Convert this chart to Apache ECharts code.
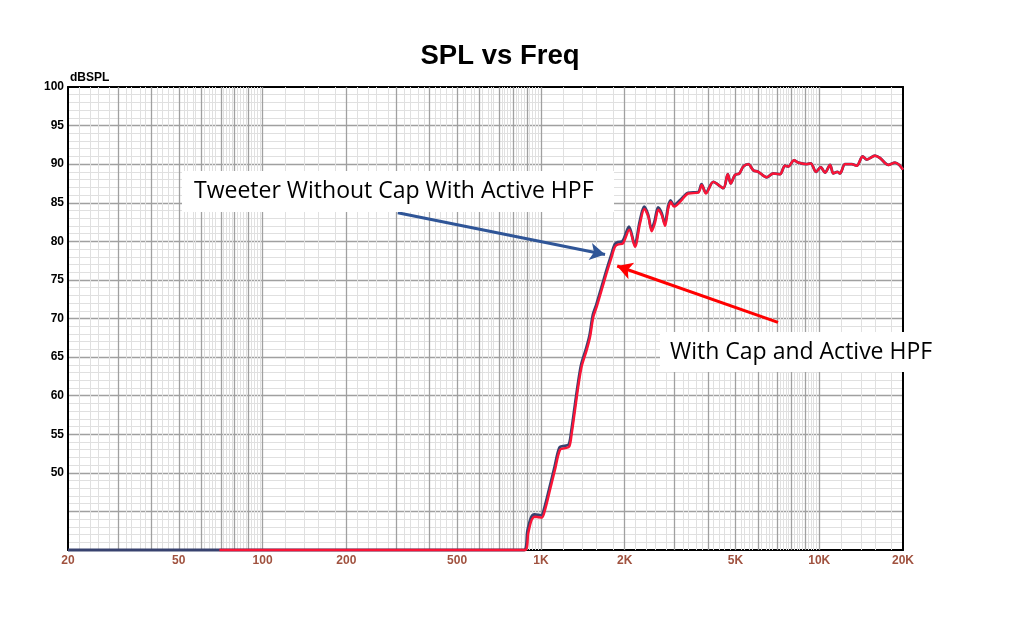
<!DOCTYPE html>
<html>
<head>
<meta charset="utf-8">
<script src="https://cdn.jsdelivr.net/npm/echarts@6/dist/echarts.min.js"></script>
<style>
html,body{margin:0;padding:0;background:#fff;}
#chart{width:1022px;height:621px;}
</style>
</head>
<body>
<div id="chart"></div>
<script>
// ---- data ----
const xTickLabels = [20, 50, 100, 200, 500, 1000, 2000, 5000, 10000, 20000];
const yTickLabels = [50, 55, 60, 65, 70, 75, 80, 85, 90, 95, 100];

const redFreq = [70, 877, 901, 927, 953, 1007, 1035, 1079, 1124, 1172, 1221, 1265, 1291, 1326, 1363, 1402, 1461, 1502, 1543, 1587, 1654, 1720, 1790, 1847, 1897, 1968, 2078, 2178, 2271, 2354, 2432, 2502, 2570, 2642, 2718, 2793, 2870, 2928, 3008, 3162, 3386, 3678, 3783, 3920, 4164, 4524, 4692, 4809, 4982, 5164, 5338, 5564, 5799, 6044, 6477, 6840, 7229, 7534, 7745, 8118, 8414, 9020, 9324, 9740, 10126, 10494, 10938, 11240, 11616, 11878, 12382, 13086, 13638, 14332, 14814, 15862, 16534, 17712, 18722, 19398, 20000];
const redSPL = [40, 40, 42.2, 43.9, 44.3, 44.2, 45.2, 47.8, 50.4, 53.0, 53.2, 53.4, 55.1, 58.1, 61.2, 63.8, 65.9, 67.6, 70.2, 71.5, 73.7, 75.8, 77.8, 79.3, 79.6, 79.7, 81.5, 79.3, 82.3, 84.2, 83.2, 81.3, 82.4, 84.1, 83.4, 82.0, 84.3, 85.1, 84.5, 85.1, 86.2, 86.3, 87.3, 86.2, 87.7, 86.9, 88.7, 87.5, 88.6, 88.8, 89.7, 90.0, 89.2, 89.0, 88.3, 88.8, 88.7, 89.8, 89.7, 90.5, 90.2, 90.0, 90.1, 89.0, 89.6, 88.9, 89.9, 88.8, 89.0, 88.8, 90.0, 90.0, 89.8, 91.0, 90.6, 91.1, 90.8, 89.9, 90.2, 89.9, 89.3];

const blueFreq = [20, 870, 895, 922, 948, 1002, 1030, 1074, 1119, 1167, 1216, 1260, 1286, 1321, 1358, 1397, 1456, 1497, 1538, 1582, 1649, 1715, 1785, 1842, 1892, 1963, 2073, 2173, 2266, 2349, 2427, 2497, 2565, 2637, 2713, 2788, 2865, 2923, 3003, 3157, 3381, 3673, 3778, 3915, 4164, 4524, 4692, 4809, 4982, 5164, 5338, 5564, 5799, 6044, 6477, 6840, 7229, 7534, 7745, 8118, 8414, 9020, 9324, 9740, 10126, 10494, 10938, 11240, 11616, 11878, 12382, 13086, 13638, 14332, 14814, 15862, 16534, 17712, 18722, 19398, 20000];
const blueSPL = [40, 40, 42.5, 44.2, 44.6, 44.5, 45.5, 48.1, 50.7, 53.3, 53.5, 53.7, 55.4, 58.4, 61.5, 64.1, 66.2, 67.9, 70.5, 71.8, 74.0, 76.1, 78.1, 79.6, 79.9, 80.0, 81.9, 79.6, 82.6, 84.5, 83.5, 81.6, 82.7, 84.4, 83.7, 82.3, 84.5, 85.3, 84.7, 85.3, 86.3, 86.4, 87.4, 86.3, 87.7, 86.9, 88.7, 87.5, 88.6, 88.8, 89.7, 90.0, 89.2, 89.0, 88.3, 88.8, 88.7, 89.8, 89.7, 90.5, 90.2, 90.0, 90.1, 89.0, 89.6, 88.9, 89.9, 88.8, 89.0, 88.8, 90.0, 90.0, 89.8, 91.0, 90.6, 91.1, 90.8, 89.9, 90.2, 89.9, 89.3];

// annotation arrows (start / end in Hz, dB)
const blueArrow = [[306, 83.7], [1700, 78.3]];
const redArrow = [[7110, 69.5], [1880, 76.8]];

// ---- build ----
const L = Math.log10;
const toPts = (f, v) => f.map((x, i) => [L(x), v[i]]);

const majors = [], minors = [];
[[20, 100, 10], [100, 1000, 100], [1000, 10000, 1000], [10000, 20000, 10000]].forEach(([a, b, s]) => {
  for (let f = a; f < b; f += s) {
    if (f > 20) majors.push(f);
    for (let k = 1; k < 5; k++) minors.push(f + k * s / 5);
  }
});
majors.push(10000);
const uniqMaj = [...new Set(majors)];

const gridLines = [];
minors.forEach(f => gridLines.push({xAxis: L(f), lineStyle: {color: '#e0e0e0', width: 1, type: 'solid'}}));
uniqMaj.forEach(f => gridLines.push({xAxis: L(f), lineStyle: {color: '#a0a0a0', width: 1.3, type: 'solid'}}));

const chart = echarts.init(document.getElementById('chart'), null, {renderer: 'canvas'});
chart.setOption({
  animation: false,
  backgroundColor: '#fff',
  title: {
    text: 'SPL vs Freq', left: 495, top: 37, textAlign: 'center',
    textStyle: {fontFamily: 'Liberation Sans, Arial', fontSize: 27.5, fontWeight: 'bold', color: '#000'}
  },
  grid: {left: 68, top: 87, width: 835, height: 463, show: false},
  xAxis: [{
    type: 'value', min: L(20), max: L(20000),
    axisLine: {show: true, onZero: false, lineStyle: {color: '#000', width: 2}},
    axisTick: {show: false},
    splitLine: {show: false},
    axisLabel: {
      customValues: xTickLabels.map(L), margin: 5,
      fontFamily: 'Liberation Sans, Arial', fontSize: 12, fontWeight: 'bold', color: '#a0523f',
      formatter: v => { const f = Math.round(Math.pow(10, v)); return f >= 1000 ? (f / 1000) + 'K' : String(f); }
    }
  }, {
    type: 'value', position: 'top', min: L(20), max: L(20000),
    axisLine: {show: true, onZero: false, lineStyle: {color: '#000', width: 2}},
    axisTick: {show: false}, axisLabel: {show: false}, splitLine: {show: false}
  }],
  yAxis: [{
    type: 'value', min: 40, max: 100, interval: 5,
    name: 'dBSPL', nameLocation: 'end', nameGap: 3,
    nameTextStyle: {fontFamily: 'Liberation Sans, Arial', fontSize: 12, fontWeight: 'bold', color: '#000', align: 'left', padding: [0, 0, 0, 2]},
    axisLine: {show: true, onZero: false, lineStyle: {color: '#000', width: 2}},
    axisTick: {show: false},
    axisLabel: {
      margin: 4, fontFamily: 'Liberation Sans, Arial', fontSize: 12, fontWeight: 'bold', color: '#000',
      formatter: v => yTickLabels.includes(v) ? String(v) : ''
    },
    splitLine: {show: true, showMinLine: false, showMaxLine: false, lineStyle: {color: '#a0a0a0', width: 1.3}},
    minorTick: {show: false, splitNumber: 5},
    minorSplitLine: {show: true, lineStyle: {color: '#e0e0e0', width: 1}}
  }, {
    type: 'value', position: 'right', min: 40, max: 100,
    axisLine: {show: true, onZero: false, lineStyle: {color: '#000', width: 2}},
    axisTick: {show: false}, axisLabel: {show: false}, splitLine: {show: false}
  }],
  series: [{
    type: 'line', data: [], silent: true, z: 1,
    markLine: {silent: true, z: 1, symbol: 'none', label: {show: false}, animation: false, data: gridLines}
  }, {
    name: 'Tweeter Without Cap With Active HPF', type: 'line', z: 3, clip: false,
    data: toPts(blueFreq, blueSPL), showSymbol: false, smooth: 0.3,
    lineStyle: {color: '#38426f', width: 2.8}
  }, {
    name: 'With Cap and Active HPF', type: 'line', z: 4, clip: false,
    data: toPts(redFreq, redSPL), showSymbol: false, smooth: 0.3,
    lineStyle: {color: '#fa1436', width: 2.4}
  }, {
    type: 'line', data: [], z: 10, silent: true,
    markLine: {
      silent: true, z: 10, symbol: ['none', 'arrow'], symbolSize: [13, 15], label: {show: false}, animation: false,
      data: [
        [{coord: [L(blueArrow[0][0]), blueArrow[0][1]], lineStyle: {color: '#2f5597', width: 3, type: 'solid'}},
         {coord: [L(blueArrow[1][0]), blueArrow[1][1]]}],
        [{coord: [L(redArrow[0][0]), redArrow[0][1]], lineStyle: {color: '#ff0000', width: 3, type: 'solid'}},
         {coord: [L(redArrow[1][0]), redArrow[1][1]]}]
      ]
    }
  }],
  graphic: [
    {type: 'rect', z: 20, shape: {x: 182, y: 171, width: 432, height: 41}, style: {fill: '#fff'}},
    {type: 'text', z: 21, x: 194, y: 191, style: {text: 'Tweeter Without Cap With Active HPF', fontFamily: 'Open Sans', fontSize: 23, fill: '#000', verticalAlign: 'middle'}},
    {type: 'rect', z: 20, shape: {x: 660, y: 332, width: 285, height: 40}, style: {fill: '#fff'}},
    {type: 'text', z: 21, x: 670, y: 352, style: {text: 'With Cap and Active HPF', fontFamily: 'Open Sans', fontSize: 23, fill: '#000', verticalAlign: 'middle'}}
  ]
});
</script>
</body>
</html>
